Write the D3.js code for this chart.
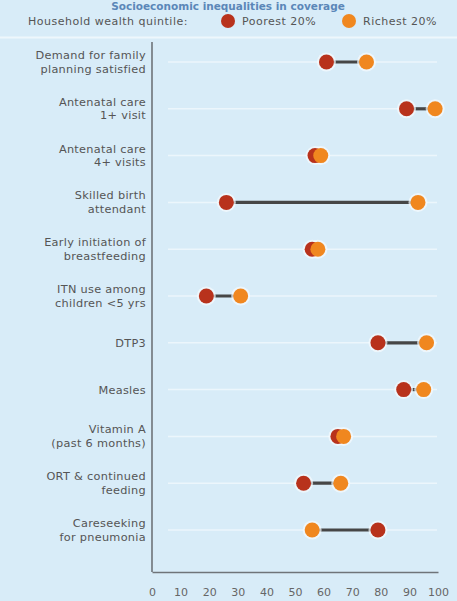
<!DOCTYPE html>
<html>
<head>
<meta charset="utf-8">
<script src="https://cdn.jsdelivr.net/npm/d3@7"></script>
<style>
html,body{margin:0;padding:0;background:#d8ecf8;}
svg{display:block;}
</style>
</head>
<body>
<svg id="chart" width="457" height="601"></svg>
<script>
const categories = [
  ["Demand for family","planning satisfied"],
  ["Antenatal care","1+ visit"],
  ["Antenatal care","4+ visits"],
  ["Skilled birth","attendant"],
  ["Early initiation of","breastfeeding"],
  ["ITN use among","children <5 yrs"],
  ["DTP3"],
  ["Measles"],
  ["Vitamin A","(past 6 months)"],
  ["ORT & continued","feeding"],
  ["Careseeking","for pneumonia"]
];
const poorest = [61, 89, 57, 26, 56, 19, 79, 88, 65, 53, 79];
const richest = [75, 99, 59, 93, 58, 31, 96, 95, 67, 66, 56];
const xTicks = [0,10,20,30,40,50,60,70,80,90,100];
const seriesNames = ["Poorest 20%","Richest 20%"];
const colors = ["#b8321c","#f0871f"];

const svg = d3.select("#chart");
const font = "'DejaVu Sans', 'Liberation Sans', sans-serif";

// title
svg.append("text").attr("x", 228).attr("y", 10).attr("text-anchor","middle")
  .attr("font-family", font).attr("font-size", 10.5).attr("font-weight", 700)
  .attr("fill", "#5b87b8").text("Socioeconomic inequalities in coverage");

// legend
const lg = svg.append("g").attr("font-family", font).attr("font-size", 11)
  .attr("letter-spacing", 0.5).attr("fill", "#555");
lg.append("text").attr("x", 28).attr("y", 25).text("Household wealth quintile:");
const legX = [228, 349];
seriesNames.forEach((n,i)=>{
  lg.append("circle").attr("cx", legX[i]).attr("cy", 21).attr("r", 7).attr("fill", colors[i]);
  lg.append("text").attr("x", legX[i]+14).attr("y", 25).text(n);
});
svg.append("line").attr("x1",0).attr("x2",457).attr("y1",37.5).attr("y2",37.5)
  .attr("stroke","#eef7fc").attr("stroke-width",2);

const x = d3.scaleLinear().domain([0,100]).range([152, 438]);
const y = d3.scalePoint().domain(d3.range(categories.length)).range([62, 530]);

// gridlines
svg.append("g").selectAll("line").data(d3.range(categories.length)).join("line")
  .attr("x1", 168).attr("x2", 437).attr("y1", d=>y(d)).attr("y2", d=>y(d))
  .attr("stroke", "#ecf6fc").attr("stroke-width", 1.5);

// axes frame
svg.append("line").attr("x1",152).attr("x2",152).attr("y1",42).attr("y2",572)
  .attr("stroke","#6f7479").attr("stroke-width",1.6);
const xAxis = d3.axisBottom(x).tickValues(xTicks).tickSize(0).tickPadding(16);
const ax = svg.append("g").attr("transform","translate(0,572)").call(xAxis);
ax.select(".domain").attr("stroke","#6f7479").attr("stroke-width",1.6);
ax.selectAll("text").attr("font-family", font).attr("font-size", 11).attr("fill","#666");

// category labels
const lab = svg.append("g").attr("font-family", font).attr("font-size", 11.3)
  .attr("letter-spacing", 0.3).attr("fill","#555").attr("text-anchor","end");
categories.forEach((c,i)=>{
  const t = lab.append("text").attr("x",146).attr("y", y(i) + (c.length===1 ? 4 : -3));
  c.forEach((line,j)=>{
    t.append("tspan").attr("x",146).attr("dy", j===0?0:13.5).text(line);
  });
});

// connectors
svg.append("g").selectAll("line").data(d3.range(categories.length)).join("line")
  .attr("x1", d=>x(poorest[d])).attr("x2", d=>x(richest[d]))
  .attr("y1", d=>y(d)).attr("y2", d=>y(d))
  .attr("stroke","#464646").attr("stroke-width",3.2);

// halos
[poorest, richest].forEach((vals)=>{
  svg.append("g").selectAll("circle").data(vals).join("circle")
    .attr("cx", d=>x(d)).attr("cy", (d,i)=>y(i)).attr("r", 9.5).attr("fill","#f7fbfd").attr("opacity",0.7);
});
// dots
[poorest, richest].forEach((vals,s)=>{
  svg.append("g").selectAll("circle").data(vals).join("circle")
    .attr("cx", d=>x(d)).attr("cy", (d,i)=>y(i)).attr("r", 7.5).attr("fill", colors[s]);
});
</script>
</body>
</html>
